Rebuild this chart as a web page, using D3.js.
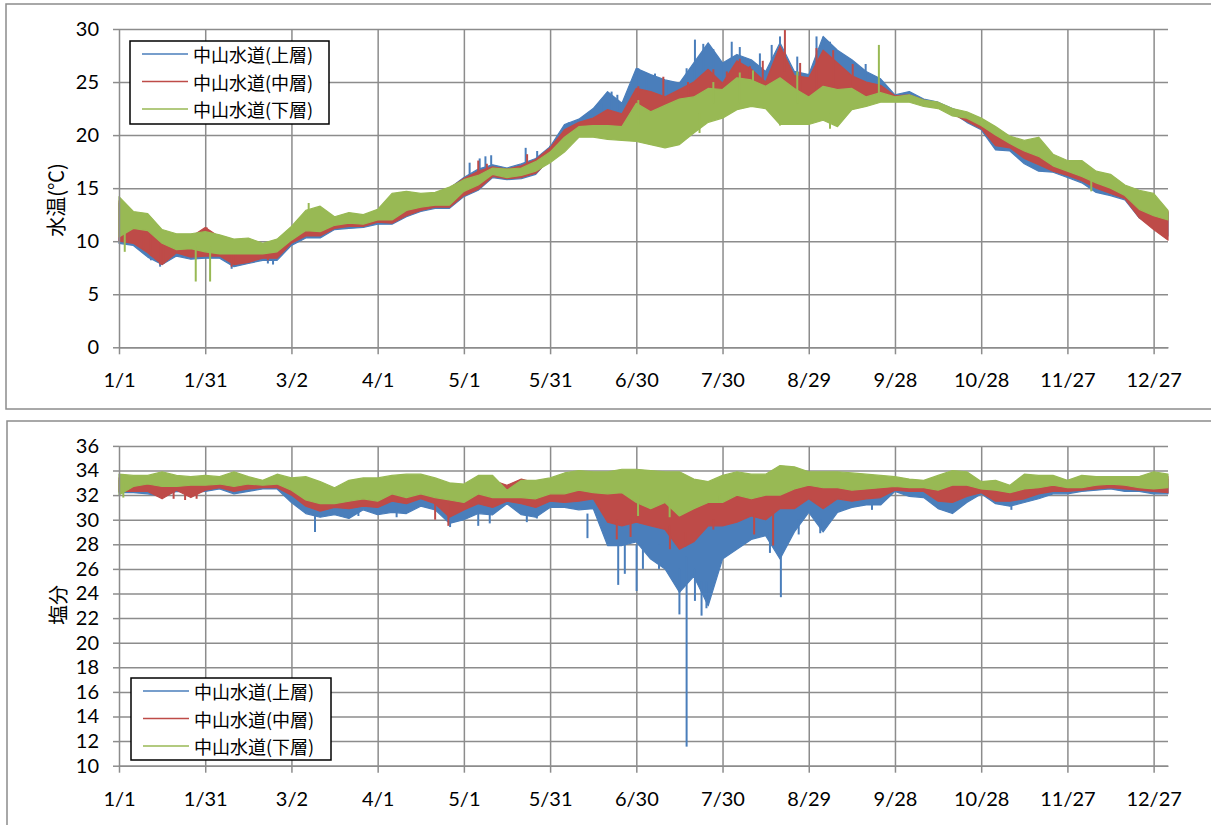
<!DOCTYPE html>
<html><head><meta charset="utf-8">
<script src="https://cdn.jsdelivr.net/npm/d3@7/dist/d3.min.js"></script>
<style>
body{margin:0;background:#fff;}
svg{display:block;}
.tick text{font-family:Lato,"Noto Sans",sans-serif;font-size:20px;fill:#000;}
</style></head>
<body>
<svg id="c" width="1211" height="825"></svg>
<script>
// ---- categories / ticks ----
const sampleDays = [0,5,10,15,20,25,30,35,40,45,50,55,60,65,70,75,80,85,90,95,100,105,110,115,120,125,130,135,140,145,150,155,160,165,170,175,180,185,190,195,200,205,210,215,220,225,230,235,240,245,250,255,260,265,270,275,280,285,290,295,300,305,310,315,320,325,330,335,340,345,350,355,360,365];
const tickDays = [0,30,60,90,120,150,180,210,240,270,300,330,360];
const tickLabels = ["1/1","1/31","3/2","4/1","5/1","5/31","6/30","7/30","8/29","9/28","10/28","11/27","12/27"];
const seriesNames = ["中山水道(上層)","中山水道(中層)","中山水道(下層)"];
const tempTicks = [0,5,10,15,20,25,30];
const salTicks = [10,12,14,16,18,20,22,24,26,28,30,32,34,36];

// ---- water temperature (°C): low / high envelope every 5 days ----
const tempUpperLo = [9.8,9.6,8.5,7.8,8.6,8.3,8.4,8.4,7.6,7.9, 8.2,8.2,9.6,10.3,10.3,11.1,11.2,11.3,11.6,11.6, 12.3,12.8,13.1,13.1,14.2,14.8,16.0,15.8,15.9,16.3, 17.8,18.8,20.2,20.2,20.0,19.9,19.8,19.5,19.2,19.5, 20.6,21.6,22.0,22.8,23.1,22.9,21.4,21.4,21.4,21.8, 21.2,22.8,23.1,23.4,23.4,23.4,23.0,22.8,22.1,21.2, 20.5,18.6,18.5,17.3,16.6,16.5,16.0,15.5,14.6,14.3, 13.9,12.2,11.3,10.5];
const tempUpperHi = [13.6,12.3,12.0,10.6,10.2,10.2,10.6,10.2,9.8,9.8, 9.4,9.8,11.0,12.3,12.6,11.8,12.2,12.0,12.6,14.0, 14.2,14.2,14.5,15.0,16.0,16.8,17.2,16.9,17.3,17.8, 18.9,21.0,21.5,22.5,24.1,23.0,26.3,25.7,25.2,24.9, 26.8,28.7,26.8,27.6,27.1,26.0,28.7,26.0,25.7,29.3, 28.0,27.1,26.0,25.3,23.8,24.1,23.4,23.1,22.5,22.0, 21.4,20.5,19.6,19.1,19.3,17.9,17.3,17.2,16.2,15.9, 14.9,14.4,14.1,12.7];
const tempMiddleLo = [10.0,9.8,8.9,7.8,8.9,8.5,8.6,8.6,7.8,8.0, 8.4,8.4,9.8,10.5,10.5,11.2,11.4,11.4,11.8,11.7, 12.4,12.9,13.2,13.2,14.3,14.9,16.1,15.9,16.0,16.4, 17.7,18.7,20.1,20.1,19.9,19.8,19.7,19.4,19.1,19.4, 20.5,21.5,21.9,22.7,23.0,22.8,21.3,21.3,21.3,21.7, 21.1,22.7,23.0,23.3,23.3,23.3,22.9,22.7,22.0,21.3, 20.6,19.0,18.8,17.8,17.2,16.6,16.2,15.7,15.0,14.5, 14.0,12.2,11.1,10.1];
const tempMiddleHi = [13.8,12.5,12.2,10.8,10.4,10.4,11.3,10.4,10.0,10.0, 9.6,10.0,11.2,12.5,12.8,12.0,12.4,12.2,12.8,14.2, 14.4,14.4,14.5,15.0,15.9,16.6,17.0,16.8,17.1,17.7, 18.8,20.5,21.2,21.6,22.4,22.0,24.4,24.1,23.6,24.3, 25.0,26.2,24.9,27.0,26.2,25.0,28.4,25.6,25.4,28.0, 26.8,25.6,25.0,24.7,23.7,23.8,23.3,23.0,22.4,22.0, 21.5,20.6,19.7,19.2,19.4,18.0,17.4,17.3,16.3,16.0, 15.0,14.5,14.2,12.8];
const tempLowerLo = [10.4,11.2,11.0,9.8,9.2,9.3,9.0,8.8,8.8,8.8, 8.8,9.0,10.1,11.0,10.9,11.5,11.7,11.6,12.0,12.0, 12.9,13.2,13.4,13.4,14.7,15.3,16.3,16.0,16.2,16.6, 17.4,18.4,19.8,19.8,19.6,19.5,19.4,19.1,18.8,19.1, 20.2,21.2,21.6,22.4,22.7,22.5,21.0,21.0,21.0,21.4, 20.8,22.4,22.7,23.1,23.1,23.1,22.7,22.5,21.8,21.6, 20.9,20.0,19.2,18.5,18.0,17.1,16.6,16.1,15.5,15.0, 14.3,13.0,12.4,12.0];
const tempLowerHi = [14.2,12.8,12.6,11.1,10.7,10.7,10.9,10.6,10.2,10.3, 9.8,10.2,11.4,12.9,13.3,12.3,12.7,12.5,13.0,14.5, 14.7,14.5,14.6,15.1,15.8,16.2,16.9,16.8,16.9,17.5, 18.4,19.8,20.8,20.9,20.9,20.8,23.0,22.2,22.8,23.4, 23.6,24.4,24.3,25.4,25.2,24.6,25.4,24.4,23.6,24.6, 24.3,24.4,23.6,24.0,23.6,23.8,23.3,23.1,22.5,22.2, 21.6,20.8,19.9,19.5,19.8,18.2,17.6,17.6,16.6,16.3, 15.3,14.8,14.5,12.9];
// isolated spikes: [day, base, tip]
const tempUpperSpikes = [[11.1,10,8.2],[14.3,10,7.6],[39.2,9,7.4],[51.8,9,7.9],[53.6,9,7.8],[122,15.5,17.4],[125.5,16,17.8],[127.5,16,18.0],[129.5,16.5,18.1],[141.5,17,18.8],[145.5,17,18.5],[150,18,19.0],[156.5,20,21.2],
  [168,21,23.0],[171.4,21,24.1],[173.4,21,23.8],[180.7,23,26.3],[183.6,23,25.8],[186.5,23,25.8],[191.2,23,25.0],[197.5,23,26.3],[200.4,24,29.0],[203.3,24,28.6],[206.8,24,28.1],[209.7,24,26.8],[213.2,24,28.8],[216,24,28.3],[219,24,27.1],[223,24,27.7],[227.1,24,28.5],[230,24,29.3],[236,24,27.4],[242.7,24,29.3],[245,24,29.2],[247.4,24,28.8],[249.7,24,28.0],[255,24,26.9],[259.8,24,26.7],[262.7,24,25.5]];
const tempMiddleSpikes = [[8.5,11,9.3],[11.1,11,8.6],[14.3,10,7.8],[15.5,10,7.9],[24.7,10,8.7],[30.5,10,11.3],[33.4,10,8.8],[39.2,9.5,7.6],[40.6,9.5,7.8],[51.8,9.5,8.2],[125,16,17.6],[128,16,17.3],[142,17,18.2],
  [180.7,23,24.6],[189.4,23,25.5],[198,23,25.0],[206.8,24,26.2],[211.5,24,26.0],[216,24,27.2],[219.5,24,26.5],[224,24,27.0],[231.7,26,29.9],[237,24,26.8],[242.7,24,28.2],[248.5,24,28.0],[255.3,24,26.7]];
const tempLowerSpikes = [[2,11,9.0],[26.7,9.5,6.2],[31.7,9.5,6.2],[66,12,13.6],[180.7,21,23.3],[202,22,20.2],[206.8,23,25.0],[216,23,25.9],[220.6,23,26.1],[230,22,20.9],[236,23,26.0],[247.4,22,20.6],[264.4,23.5,28.5],[338.3,16,14.7]];

// ---- salinity: low / high envelope every 5 days ----
const salUpperLo = [32.2,32.2,32.1,31.9,32.3,32.2,32.3,32.5,32.1,32.3, 32.5,32.5,31.4,30.5,30.2,30.4,30.1,30.8,30.4,30.6, 30.5,31.1,30.8,29.7,30.0,30.5,30.4,31.3,30.4,30.2, 31.0,31.0,30.8,30.9,27.9,27.9,28.2,26.8,26.0,24.1, 25.4,23.0,26.8,27.6,28.4,28.7,26.8,29.0,30.6,29.0, 30.6,31.0,31.2,31.2,32.3,31.9,31.8,30.9,30.5,31.4, 32.1,31.3,31.1,31.4,31.7,32.1,32.1,32.3,32.4,32.5, 32.3,32.3,32.1,32.1];
const salUpperHi = [33.2,33.1,33.1,33.3,33.1,33.0,33.1,33.1,33.3,33.0, 32.8,33.1,32.9,32.8,32.5,32.2,32.6,32.8,32.8,33.0, 33.1,33.1,32.9,32.5,32.5,33.0,33.0,32.6,33.1,32.8, 32.9,33.2,33.3,33.2,33.2,33.3,33.3,33.2,33.1,33.0, 32.7,32.5,33.0,33.2,33.1,33.1,33.6,33.5,33.3,33.3, 33.3,33.2,33.1,33.0,33.0,32.9,32.8,33.1,33.3,33.3, 32.7,32.8,32.5,33.1,33.1,33.1,32.9,33.3,33.3,33.2, 33.3,33.3,33.4,33.3];
const salMiddleLo = [32.3,32.3,32.3,31.7,32.4,31.8,32.4,32.6,32.3,32.5, 32.6,32.6,32.0,31.1,30.7,31.0,30.9,31.1,31.0,31.5, 31.3,31.7,31.3,30.2,30.8,31.3,31.0,31.5,31.3,31.0, 31.5,31.4,31.5,31.7,29.8,29.5,29.8,29.5,29.2,27.6, 28.2,29.5,29.5,29.8,30.3,30.0,30.9,30.9,31.7,30.9, 31.7,31.5,31.7,31.8,32.4,32.3,32.3,31.5,31.4,31.9, 32.2,31.5,31.5,31.7,32.1,32.3,32.3,32.4,32.5,32.6, 32.5,32.4,32.3,32.2];
const salMiddleHi = [33.4,33.3,33.3,33.5,33.3,33.2,33.3,33.3,33.5,33.2, 33.0,33.3,33.1,33.0,32.7,32.4,32.8,33.0,33.0,33.2, 33.3,33.3,33.1,32.7,32.7,33.2,33.2,32.8,33.3,33.0, 33.1,33.4,33.5,33.4,33.4,33.5,33.5,33.4,33.3,33.2, 32.9,32.7,33.2,33.4,33.3,33.3,33.8,33.7,33.5,33.5, 33.5,33.4,33.3,33.2,33.2,33.1,33.0,33.3,33.5,33.5, 32.9,33.0,32.7,33.3,33.3,33.3,33.1,33.5,33.5,33.4, 33.5,33.5,33.6,33.5];
const salLowerLo = [32.0,32.7,32.9,32.7,32.7,32.8,32.8,32.9,32.7,32.9, 32.8,32.9,32.4,31.6,31.3,31.3,31.5,31.7,31.5,32.1, 31.8,32.1,31.8,31.6,31.4,32.1,31.8,31.8,31.8,31.7, 32.1,32.1,32.4,32.2,32.1,32.2,31.4,30.9,31.4,30.3, 30.9,31.4,31.4,32.0,31.7,32.0,32.0,32.5,32.8,32.6, 32.6,32.4,32.5,32.6,32.7,32.6,32.6,32.4,32.8,32.8, 32.5,32.4,32.2,32.5,32.6,32.8,32.6,32.6,32.8,32.9, 32.8,32.6,32.5,32.6];
const salLowerHi = [33.7,33.6,33.6,33.9,33.6,33.5,33.6,33.5,33.9,33.5, 33.2,33.7,33.4,33.5,33.1,32.6,33.2,33.4,33.4,33.6, 33.7,33.7,33.4,33.0,32.9,33.6,33.6,32.4,33.2,33.2, 33.4,33.8,34.0,33.9,33.9,34.1,34.1,34.0,33.9,33.9, 33.3,33.1,33.6,33.9,33.7,33.7,34.4,34.3,33.9,33.9, 33.9,33.8,33.7,33.6,33.5,33.3,33.2,33.6,34.0,33.9, 33.1,33.2,32.8,33.7,33.6,33.6,33.2,33.6,33.5,33.5, 33.5,33.5,33.9,33.7];
const salUpperSpikes = [[68.2,30.5,29.0],[74.6,31,30.4],[83.3,31,30.3],[96.6,31,30.2],[115.2,30.5,29.4],[125,30.5,29.5],[129,30.5,29.7],[141.9,30.5,29.8],[145.4,30.5,30.1],
  [163,30.5,28.5],[173.7,28,24.7],[176,28,25.6],[180.1,28,24.2],[182.3,28,26.0],[187.9,28,26.0],[195,26,22.3],[197.5,27,11.55],[200.4,26,23.4],[202.7,25,22.2],[204.4,25,22.8],[226.5,29,27.3],[230.3,28,23.7],[236.5,30,28.8],[244,30,28.9],[262,31.5,30.8],[310.5,31.5,30.8]];
const salMiddleSpikes = [[19,32.4,31.7],[23,32.4,31.6],[27,32.4,31.7],[110,31.3,30.0],[114.6,31.3,29.5],[173.2,30,28.4],[178,30,28.6],[191.7,29.5,27.6],[197,29,27.8],[206.8,30,29.2],[221,30.5,28.8],[227.6,30.5,27.9]];
const salLowerSpikes = [[1.5,33,31.8],[180.6,32,30.3],[191.6,32,30.2],[209,32,31.4]];

const colors = ["#4A7EBB","#BE4B48","#98B954"];

const svg = d3.select("#c");
const gridCol = "#8c8c8c";

// panel frames
svg.append("rect").attr("x",6).attr("y",4).attr("width",1220).attr("height",405)
  .attr("fill","none").attr("stroke",gridCol).attr("stroke-width",1.5);
svg.append("rect").attr("x",7).attr("y",421).attr("width",1220).attr("height",420)
  .attr("fill","none").attr("stroke",gridCol).attr("stroke-width",1.5);

const x = d3.scaleLinear().domain([0,365]).range([119,1168]);

function panel(cfg){
  const y = d3.scaleLinear().domain(cfg.domain).range([cfg.bottom, cfg.top]);
  const g = svg.append("g");
  // horizontal grid
  g.append("g").attr("transform",`translate(${x(0)},0)`)
    .call(d3.axisLeft(y).tickValues(cfg.ticks).tickSize(-(x(365)-x(0))).tickFormat(""))
    .call(a=>a.select(".domain").remove())
    .call(a=>a.selectAll("line").attr("stroke",gridCol).attr("stroke-width",1.5));
  // vertical grid
  g.append("g").attr("transform",`translate(0,${cfg.bottom})`)
    .call(d3.axisBottom(x).tickValues(tickDays.slice(1)).tickSize(-(cfg.bottom-cfg.top)).tickFormat(""))
    .call(a=>a.select(".domain").remove())
    .call(a=>a.selectAll("line").attr("stroke",gridCol).attr("stroke-width",1.5));

  // series
  const area = d3.area().x((d,i)=>x(sampleDays[i])).y0(d=>y(d[0])).y1(d=>y(d[1]));
  cfg.series.forEach((s,k)=>{
    const pts = s.lo.map((v,i)=>[v,s.hi[i]]);
    g.append("path").datum(pts).attr("d",area)
      .attr("fill",colors[k]).attr("stroke",colors[k]).attr("stroke-width",1.2).attr("stroke-linejoin","round");
    g.selectAll(null).data(s.spikes).enter().append("line")
      .attr("x1",d=>x(d[0])).attr("x2",d=>x(d[0]))
      .attr("y1",d=>y(d[1])).attr("y2",d=>y(d[2]))
      .attr("stroke",colors[k]).attr("stroke-width",2);
  });

  // axes
  g.append("g").attr("transform",`translate(${x(0)},0)`)
    .call(d3.axisLeft(y).tickValues(cfg.ticks).tickSize(6).tickSizeOuter(0).tickPadding(14))
    .call(a=>a.selectAll("line,path").attr("stroke",gridCol).attr("stroke-width",1.5));
  g.append("g").attr("transform",`translate(0,${cfg.bottom})`)
    .call(d3.axisBottom(x).tickValues(tickDays).tickSize(7).tickSizeOuter(0).tickPadding(19)
      .tickFormat((d,i)=>tickLabels[i]))
    .call(a=>a.selectAll("line,path").attr("stroke",gridCol).attr("stroke-width",1.5));

  // y title
  svg.append("text").attr("transform",`translate(${cfg.titleX},${cfg.titleY}) rotate(-90)`)
    .attr("text-anchor","middle").attr("dominant-baseline","central")
    .attr("font-family","'Noto Sans CJK JP',sans-serif").attr("font-size",20)
    .text(cfg.title);

  // legend
  const L = cfg.legend;
  const lg = svg.append("g");
  lg.append("rect").attr("x",L.x).attr("y",L.y).attr("width",L.w).attr("height",L.h)
    .attr("fill","#fff").attr("stroke","#000").attr("stroke-width",1.5);
  seriesNames.forEach((n,k)=>{
    const yy = L.y + 13 + k*27.5;
    lg.append("line").attr("x1",L.x+12).attr("x2",L.x+58).attr("y1",yy).attr("y2",yy)
      .attr("stroke",colors[k]).attr("stroke-width",1.5);
    lg.append("text").attr("x",L.x+63).attr("y",yy).attr("dominant-baseline","central")
      .attr("font-family","'Noto Sans CJK JP',sans-serif").attr("font-size",18).text(n);
  });
}

panel({domain:[0,30], ticks:tempTicks, top:29, bottom:347.3, title:"水温(℃)", titleX:55, titleY:200,
  legend:{x:130,y:41,w:199,h:83},
  series:[
    {lo:tempUpperLo, hi:tempUpperHi, spikes:tempUpperSpikes},
    {lo:tempMiddleLo, hi:tempMiddleHi, spikes:tempMiddleSpikes},
    {lo:tempLowerLo, hi:tempLowerHi, spikes:tempLowerSpikes}]});
panel({domain:[10,36], ticks:salTicks, top:445.9, bottom:765.7, title:"塩分", titleX:57, titleY:605,
  legend:{x:131,y:678,w:200,h:82},
  series:[
    {lo:salUpperLo, hi:salUpperHi, spikes:salUpperSpikes},
    {lo:salMiddleLo, hi:salMiddleHi, spikes:salMiddleSpikes},
    {lo:salLowerLo, hi:salLowerHi, spikes:salLowerSpikes}]});
</script>
</body></html>
